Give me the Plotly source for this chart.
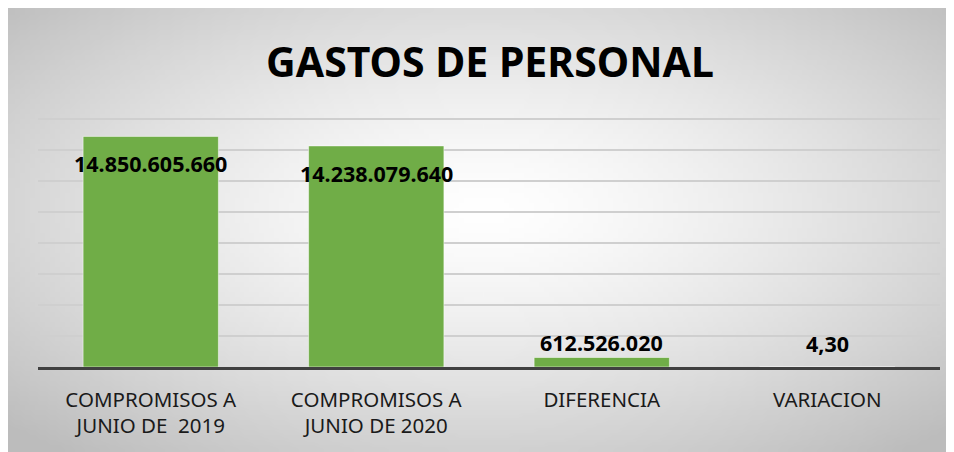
# Gastos de personal: compromisos a junio 2019 vs 2020
import base64
import struct
import zlib

import plotly.graph_objects as go

categorias = ["COMPROMISOS A<br>JUNIO DE  2019", "COMPROMISOS A<br>JUNIO DE 2020",
              "DIFERENCIA", "VARIACION"]
valores = [14850605660, 14238079640, 612526020, 4.30]
etiquetas = ["14.850.605.660", "14.238.079.640", "612.526.020", "4,30"]


def radial_png(w, h, edge=188):
    # small grey radial gradient (white centre), stretched by the browser
    rows = b""
    cx, cy = w * 0.5, h * 0.45
    for j in range(h):
        row = bytearray([0])
        for i in range(w):
            dx = (i - cx) / (w / 2)
            dy = (j - cy) / (h / 2)
            r = min(1.0, ((dx * dx + dy * dy) ** 0.5) / 1.414)
            row.append(int(255 - (255 - edge) * r ** 1.4))
        rows += bytes(row)

    def chunk(tag, data):
        c = struct.pack(">I", len(data)) + tag + data
        return c + struct.pack(">I", zlib.crc32(tag + data) & 0xffffffff)

    png = b"\x89PNG\r\n\x1a\n"
    png += chunk(b"IHDR", struct.pack(">IIBBBBB", w, h, 8, 0, 0, 0, 0))
    png += chunk(b"IDAT", zlib.compress(rows))
    png += chunk(b"IEND", b"")
    return "data:image/png;base64," + base64.b64encode(png).decode()


fig = go.Figure(go.Bar(
    x=categorias, y=valores,
    marker=dict(color="#70AD47", line=dict(color="rgba(255,255,255,0.5)", width=1)),
    width=0.6, hoverinfo="skip",
))

# data labels (positions as in the original sheet)
desplaz = [-27, -28, 15, 24]
for c, v, t, s in zip(categorias, valores, etiquetas, desplaz):
    fig.add_annotation(x=c, y=v, text=t, showarrow=False, yshift=s,
                       yanchor="middle",
                       font=dict(family="Noto Sans", size=21.5, color="black", weight="bold"))

# the page adds an 8px body margin, so the visible area is 946x444
L, R, T, B = 30, 22, 109, 93
W, H = 954, 452
VW, VH = 946, 444
pw, ph = W - L - R, H - T - B
fig.add_layout_image(
    source=radial_png(190, 90), xref="paper", yref="paper",
    x=-L / pw, y=(H - B) / ph, sizex=VW / pw, sizey=VH / ph,
    xanchor="left", yanchor="top", sizing="stretch", layer="below",
)

fig.update_layout(
    width=W, height=H,
    margin=dict(l=L, r=R, t=T, b=B),
    paper_bgcolor="white", plot_bgcolor="rgba(0,0,0,0)",
    showlegend=False,
    title=dict(text="<b>GASTOS DE PERSONAL</b>", x=482 / W, xanchor="center",
               y=1 - 55 / H, yanchor="middle",
               font=dict(family="Noto Sans", size=41, color="black")),
    xaxis=dict(showline=True, linecolor="#404040", linewidth=3,
               ticks="", ticklabelstandoff=12,
               tickfont=dict(family="Noto Sans", size=20.5, color="#1a1a1a")),
    yaxis=dict(range=[0, 16.1e9], dtick=2e9, showticklabels=False,
               showgrid=True, gridcolor="#CFCFCF", gridwidth=2, zeroline=False),
)

fig.write_html("out.html")
